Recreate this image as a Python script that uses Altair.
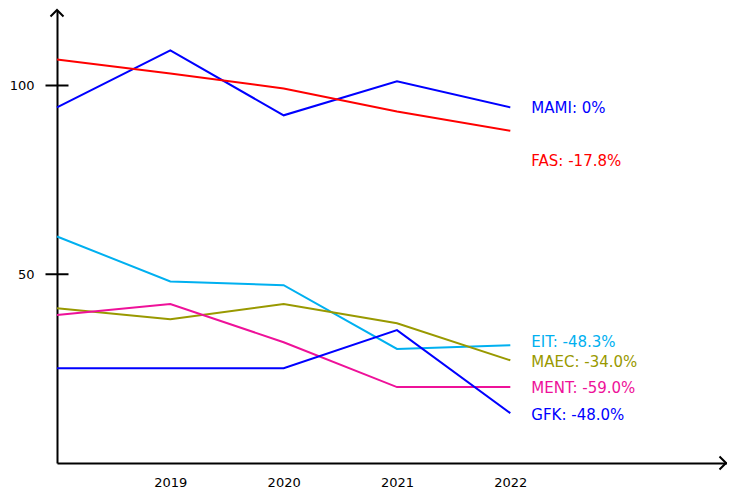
import altair as alt
import pandas as pd

years = [2018, 2019, 2020, 2021, 2022]
series = ["MAMI", "FAS", "EIT", "MAEC", "MENT", "GFK"]
values = {
    "MAMI": [94.2, 109.3, 92.1, 101.1, 94.2],
    "FAS": [106.9, 103.2, 99.2, 93.1, 88.0],
    "EIT": [60.0, 48.1, 47.1, 30.2, 31.2],
    "MAEC": [41.0, 38.1, 42.1, 37.0, 27.2],
    "MENT": [39.2, 42.1, 32.0, 20.1, 20.1],
    "GFK": [25.1, 25.1, 25.1, 35.2, 13.2],
}
labels = ["MAMI: 0%", "FAS: -17.8%", "EIT: -48.3%", "MAEC: -34.0%", "MENT: -59.0%", "GFK: -48.0%"]
label_y = [94.0, 79.9, 32.0, 26.7, 19.8, 12.7]
colors = ["#0000ff", "#ff0000", "#00b0f0", "#999900", "#ee1199", "#0000ff"]
y_ticks = [50, 100]
x_ticks = [2019, 2020, 2021, 2022]

rows = []
for s in series:
    for yr, v in zip(years, values[s]):
        rows.append({"series": s, "year": yr, "value": v})
df = pd.DataFrame(rows)
lab_df = pd.DataFrame({"series": series, "label": labels, "year": [years[-1]] * len(series), "value": label_y})
tick_df = pd.DataFrame({"value": y_ticks})

FONT = "DejaVu Sans"
W, H = 670, 453

xs = alt.Scale(domain=[2018, 2023.912], nice=False, zero=False)
ys = alt.Scale(domain=[0, 120], nice=False)
cs = alt.Scale(domain=series, range=colors)

x_axis = alt.Axis(values=x_ticks, format="d", title=None, grid=False, ticks=False,
                  domain=True, domainColor="black", domainWidth=2,
                  labelFont=FONT, labelFontSize=13, labelColor="black", labelPadding=13)
y_axis = alt.Axis(values=y_ticks, title=None, grid=False, ticks=False,
                  domain=True, domainColor="black", domainWidth=2,
                  labelFont=FONT, labelFontSize=13, labelColor="black", labelPadding=23)

lines = alt.Chart(df).mark_line(strokeWidth=2, clip=False).encode(
    x=alt.X("year:Q", scale=xs, axis=x_axis),
    y=alt.Y("value:Q", scale=ys, axis=y_axis),
    color=alt.Color("series:N", scale=cs, legend=None),
    detail="series:N",
)

texts = alt.Chart(lab_df).mark_text(align="left", baseline="middle", dx=21, font=FONT, fontSize=15).encode(
    x=alt.X("year:Q", scale=xs),
    y=alt.Y("value:Q", scale=ys),
    text="label:N",
    color=alt.Color("series:N", scale=cs, legend=None),
)

yticks = alt.Chart(tick_df).mark_tick(orient="horizontal", size=23, thickness=2, color="black", opacity=1).encode(
    x=alt.value(0),
    y=alt.Y("value:Q", scale=ys),
)

up_arrow = alt.Chart(pd.DataFrame({"a": [0]})).mark_point(
    shape="M-1,1L0,0L1,1", size=169, filled=False, stroke="black", strokeWidth=2, opacity=1
).encode(x=alt.value(0), y=alt.value(0))

right_arrow = alt.Chart(pd.DataFrame({"a": [0]})).mark_point(
    shape="M-1,-1L0,0L-1,1", size=169, filled=False, stroke="black", strokeWidth=2, opacity=1
).encode(x=alt.value(W - 1), y=alt.value(H))

chart = alt.layer(lines, texts, yticks, up_arrow, right_arrow).properties(
    width=W, height=H,
    background="white",
    autosize=alt.AutoSizeParams(type="none"),
    padding={"left": 49, "top": 2, "right": 0, "bottom": 25},
).configure_view(stroke=None)

chart.save("out.html", embed_options={"renderer": "svg", "actions": False})
